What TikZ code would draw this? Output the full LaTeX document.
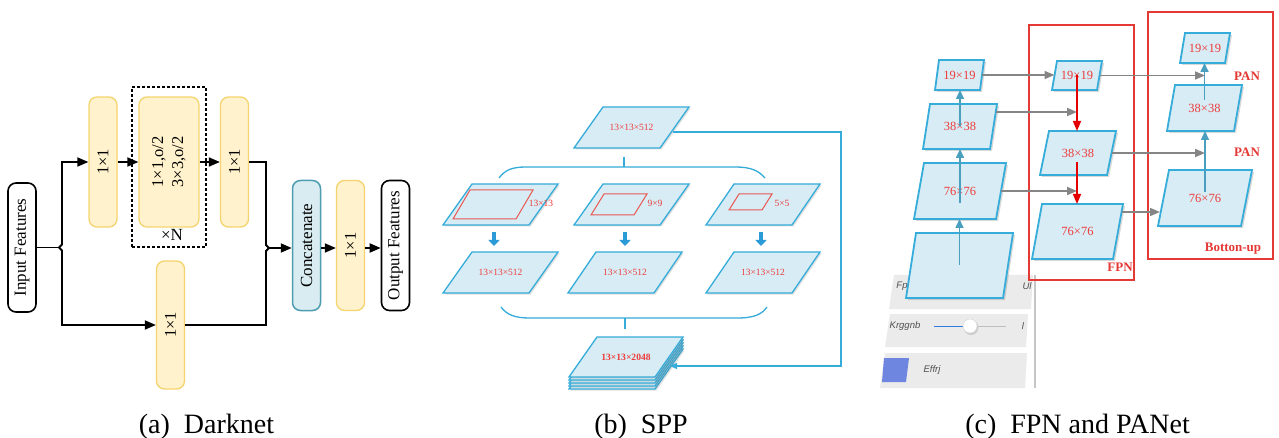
\documentclass[tikz,border=0pt]{standalone}
\usepackage{fontspec}
\setmainfont{Liberation Serif}
\newfontfamily\uifont{Liberation Sans}
\usepackage{graphicx}
\usetikzlibrary{arrows.meta,calc,shadows}

\definecolor{yfill}{HTML}{FFF2CC}
\definecolor{ydraw}{HTML}{F5D46F}
\definecolor{cfill}{HTML}{D8ECF1}
\definecolor{cdraw}{HTML}{4E9DB0}
\definecolor{pfill}{HTML}{D7ECF4}
\definecolor{pdraw}{HTML}{35ACD9}
\definecolor{tred}{HTML}{EE3B3B}
\definecolor{rbox}{HTML}{E53935}
\definecolor{tealarr}{HTML}{4A9FBF}
\definecolor{garr}{HTML}{858585}
\definecolor{dblue}{HTML}{2A9BD6}
\definecolor{band}{HTML}{EBEBEB}
\definecolor{uitext}{HTML}{505050}
\definecolor{uiblue}{HTML}{6F86E0}
\definecolor{slblue}{HTML}{2F7BE0}

% parallelogram: name, bottom-left x, bottom y, width, height, top shift
\newcommand\ppar[6]{%
  \path[parashape] (#2,#3) -- ++(#4,0) -- ++(#6,-#5) -- ++(-#4,0) -- cycle;
  \coordinate (#1) at ({#2+#4/2+#6/2},{#3-#5/2});
  \coordinate (#1-e) at ({#2+#4+#6/2},{#3-#5/2});
  \coordinate (#1-w) at ({#2+#6/2},{#3-#5/2});
  \coordinate (#1-s) at ({#2+#4/2},{#3});
  \coordinate (#1-n) at ({#2+#4/2+#6},{#3-#5});
}
\newcommand\rpar[5]{%
  \draw[rparstyle] (#1,#2) -- ++(#3,0) -- ++(#5,-#4) -- ++(-#3,0) -- cycle;
}

\tikzset{
  ybox/.style={draw=ydraw, fill=yfill, line width=1.3pt, rounded corners=8pt,
    minimum width=28pt, minimum height=130pt, inner sep=0pt, font=\fontsize{16.5}{19}\selectfont},
  bbox/.style={draw=black, fill=white, line width=1.6pt, rounded corners=8pt,
    minimum width=28pt, minimum height=129pt, inner sep=0pt, font=\fontsize{17}{19}\selectfont},
  cbox/.style={draw=cdraw, fill=cfill, line width=1.5pt, rounded corners=8pt,
    minimum width=28pt, minimum height=130pt, inner sep=0pt, font=\fontsize{17}{19}\selectfont},
  blk/.style={draw=black, line width=1.8pt},
  barr/.style={blk, -{Triangle[length=11pt,width=9pt]}},
  bcol/.style={draw=pdraw, line width=1.3pt},
  bfb/.style={bcol, -{Triangle[length=7pt,width=6pt]}},
  fatarr/.style={draw=dblue, line width=4.5pt, -{Triangle[length=6pt,width=11pt]}},
  blab/.style={text=tred, font=\fontsize{9.5}{11}\selectfont, inner sep=0pt},
  rparstyle/.style={draw=rbox!85!white, line width=1pt},
  clab/.style={text=tred, font=\fontsize{12.5}{14}\selectfont, inner sep=0pt},
  cbold/.style={text=rbox, font=\fontsize{13}{15}\selectfont\bfseries, inner sep=0pt},
  rbx/.style={draw=rbox, line width=1.3pt},
  tarr/.style={draw=tealarr, line width=1.6pt, -{Triangle[length=9pt,width=8pt]}},
  rarr/.style={draw=red!90!black, line width=1.6pt, -{Triangle[length=10pt,width=8pt]}},
  garrow/.style={draw=garr, line width=1.6pt, -{Triangle[length=10pt,width=8pt]}},
  uit/.style={text=uitext, font=\uifont\itshape\fontsize{9.5}{11}\selectfont, inner sep=0pt},
  captxt/.style={font=\fontsize{28}{32}\selectfont, inner sep=0pt, anchor=base},
}

\begin{document}
\begin{tikzpicture}[x=1pt,y=-1pt]
\useasboundingbox (0,0) rectangle (1279,438);
\fill[white] (0,0) rectangle (1279,438);

%% ================= (a) Darknet =================
\node[bbox] (in) at (22,247.5) {\rotatebox{90}{Input Features}};
\node[ybox] (c1) at (103,162) {\rotatebox{90}{1×1}};
\node[ybox, minimum width=60pt] (mid) at (169,162)
  {\rotatebox{90}{\fontsize{16.5}{20}\selectfont\begin{tabular}{@{}c@{}}1×1,o/2\\3×3,o/2\end{tabular}}};
\node[ybox] (c2) at (234.5,162) {\rotatebox{90}{1×1}};
\node[ybox, minimum height=128pt] (c3) at (170.5,325) {\rotatebox{90}{1×1}};
\node[cbox] (cat) at (306.5,245.5) {\rotatebox{90}{Concatenate}};
\node[ybox] (c4) at (350.5,245.5) {\rotatebox{90}{1×1}};
\node[bbox, minimum height=130pt] (out) at (395.5,245.5) {\rotatebox{90}{Output Features}};
\node[draw=black, line width=1.2pt, dash pattern=on 3pt off 2pt, minimum width=74pt,
  minimum height=160pt, inner sep=0pt] (nbox) at (169,167) {};
\node[font=\fontsize{17}{19}\selectfont, inner sep=0pt] (xn) at (172,235) {×N};

\coordinate (jl) at (59,247.5);
\coordinate (jlt) at (62,162);
\coordinate (jlb) at (62,325);
\coordinate (jr) at (269,248);
\coordinate (jrt) at (266,162);
\coordinate (jrb) at (266,325);
\draw[blk] (in.east) -- (jl);
\draw[barr] (jl) -- ++(3,-3) -- (jlt) -- (c1.west);
\draw[barr] (jl) -- ++(3,3) -- (jlb) -- (c3.west);
\draw[barr] (c1.east) -- (mid.west);
\draw[barr] (mid.east) -- (c2.west);
\draw[blk] (c2.east) -- (jrt) -- (266,245) -- (jr) -- (266,251) -- (jrb) -- (c3.east);
\draw[barr] (jr) -- (cat.west |- jr);
\draw[barr] (cat.east |- jr) -- (c4.west |- jr);
\draw[barr] (c4.east |- jr) -- (out.west |- jr);

%% ================= (b) SPP =================
\begin{scope}[parashape/.style={fill=pfill, draw=pdraw, line width=1.3pt,
   drop shadow={shadow xshift=1.5pt, shadow yshift=-1.5pt, opacity=0.25, fill=gray}}]
\ppar{top}{574}{148}{86}{41}{29}
\ppar{r1a}{443}{225}{86}{41}{29}
\ppar{r1b}{574}{225}{86}{41}{29}
\ppar{r1c}{706}{225}{86}{41}{28}
\ppar{r2a}{443}{293}{86}{41}{29}
\ppar{r2b}{568}{293}{86}{41}{28}
\ppar{r2c}{706}{293}{86}{41}{28}
\ppar{s4}{569}{389}{86}{40}{28}
\ppar{s3}{569}{386}{86}{40}{28}
\ppar{s2}{569}{383}{86}{40}{28}
\ppar{s1}{569}{380}{86}{40}{28}
\ppar{stk}{569}{377}{86}{40}{28}
\end{scope}
\rpar{453}{219}{63}{29}{17}
\rpar{591}{215}{43}{21}{13}
\rpar{729}{210}{33}{16}{10}

\node[blab] (ltop) at (top) {13×13×512};
\node[blab] (l13) at (541,203) {13×13};
\node[blab] (l9) at (655,203) {9×9};
\node[blab] (l5) at (782,203) {5×5};
\node[blab] (l2a) at (r2a) {13×13×512};
\node[blab] (l2b) at (r2b) {13×13×512};
\node[blab] (l2c) at (r2c) {13×13×512};
\node[blab, font=\fontsize{9.6}{11}\selectfont\bfseries] (lstk) at (stk) {13×13×2048};

\coordinate (da1) at (494,232); \coordinate (db1) at (494,246);
\coordinate (da2) at (625,232); \coordinate (db2) at (625,246);
\coordinate (da3) at (761,232); \coordinate (db3) at (761,246);
\draw[fatarr] (da1) -- (db1);
\draw[fatarr] (da2) -- (db2);
\draw[fatarr] (da3) -- (db3);

\draw[bcol] (499,178) .. controls (505,170) and (512,167) .. (526,167) -- (735,167)
  .. controls (750,167) and (758,170) .. (765,178);
\draw[bcol] (624,157) -- (624,167);
\draw[bcol] (501,307) .. controls (507,315) and (515,318) .. (530,318) -- (737,318)
  .. controls (755,318) and (762,314) .. (767,307);
\draw[bcol] (625,318) -- (625,329);

\coordinate (fbs) at (673,132);
\coordinate (fb1) at (841,132);
\coordinate (fb2) at (841,366);
\coordinate (fbe) at (670,366);
\draw[bfb] (fbs) -- (fb1) -- (fb2) -- (fbe);

%% ================= (c) FPN and PANet =================
% stray UI panel
\fill[band] (894,275) -- (1033,275) -- (1031,309) -- (889,309) -- cycle;
\fill[band] (890,314) -- (1028,314) -- (1026,347) -- (885,347) -- cycle;
\fill[band] (885,353) -- (1027,353) -- (1025,388) -- (880,388) -- cycle;
\draw[gray!45, line width=2pt] (1035,275) -- (1035,388);
\node[uit] (ufp) at (902,286) {Fp};
\node[uit] (uul) at (1027,286) {Ul};
\node[uit] (ukr) at (905,326) {Krggnb};
\node[uit] (ul) at (1023,326) {l};
\node[uit] (uef) at (932,370) {Effrj};
\draw[slblue, line width=1pt] (934,326) -- (970,326);
\draw[gray!50, line width=1pt] (970,326) -- (1006,326);
\fill[gray!40] (971,327.5) circle (7.5);
\filldraw[fill=white, draw=gray!30, line width=0.5pt] (970,326) circle (7);
\fill[uiblue] (884,358) -- (909,358) -- (906,382) -- (882,382) -- cycle;

\draw[rbx] (1029,25) rectangle (1134,280);
\draw[rbx] (1148,12) rectangle (1273,259);

\begin{scope}[parashape/.style={fill=pfill, draw=pdraw, line width=1.8pt,
   drop shadow={shadow xshift=2pt, shadow yshift=-2pt, opacity=0.3, fill=gray}}]
\ppar{L19}{935}{90}{45}{30}{4}
\ppar{L38}{923}{149}{67}{45}{7}
\ppar{L76}{914}{219}{82}{56}{10}
\ppar{Lb}{906}{298}{97}{65}{10}
\ppar{M19}{1052}{90}{45}{29}{5}
\ppar{M38}{1040}{175}{67}{44}{9}
\ppar{M76}{1032}{259}{81}{55}{10}
\ppar{R19}{1180}{63}{45}{30}{5}
\ppar{R38}{1167}{131}{67}{46}{8}
\ppar{R76}{1158}{226}{83}{56}{11}
\end{scope}

\node[clab] (tL19) at (L19) {19×19};
\node[clab] (tL38) at (L38) {38×38};
\node[clab] (tL76) at (L76) {76×76};
\node[clab] (tM19) at (M19) {19×19};
\node[clab] (tM38) at (M38) {38×38};
\node[clab] (tM76) at (M76) {76×76};
\node[clab] (tR19) at (R19) {19×19};
\node[clab] (tR38) at (R38) {38×38};
\node[clab] (tR76) at (R76) {76×76};

% upward (teal) arrows
\draw[tarr] (Lb) -- (Lb |- L76-s);
\draw[tarr] ($(L76)+(0,12)$) -- (L76 |- L38-s);
\draw[tarr] (L38) -- (L38 |- L19-s);
\draw[tarr] ($(R76)+(0,-6)$) -- (R76 |- R38-s);
\draw[tarr] ($(R38)+(0,-8)$) -- (R38 |- R19-s);

% gray lateral arrows
\coordinate (g2s) at (996,112);
\coordinate (g6s) at (1122,212);
\coordinate (g6e) at (1160,212);
\draw[garrow] (L19-e) -- (L19-e -| M19-w);
\draw[garrow] (g2s) -- (g2s -| M19);
\draw[garrow] (L76-e) -- (L76-e -| M19);
\draw[garrow] (M19-e) -- (M19-e -| R19);
\draw[garrow] (M38-e) -- (M38-e -| R19);
\draw[garrow] (g6s) -- (g6e);

% red top-down arrows
\draw[rarr] (M19) -- (M19 |- M38-n);
\draw[rarr] ($(M19 |- M38)+(0,9)$) -- (M19 |- M76-n);

\node[cbold] (tfpn) at (1120,267) {FPN};
\node[cbold] (tpan1) at (1247,76) {PAN};
\node[cbold] (tpan2) at (1247,152) {PAN};
\node[cbold] (tbu) at (1233,249) {Botton-up};

%% ================= captions =================
\node[captxt] (capa) at (206.5,433) {(a)\enspace Darknet};
\node[captxt] (capb) at (641,433) {(b)\enspace SPP};
\node[captxt] (capc) at (1077.5,433) {(c)\enspace FPN and PANet};
\end{tikzpicture}
\end{document}
